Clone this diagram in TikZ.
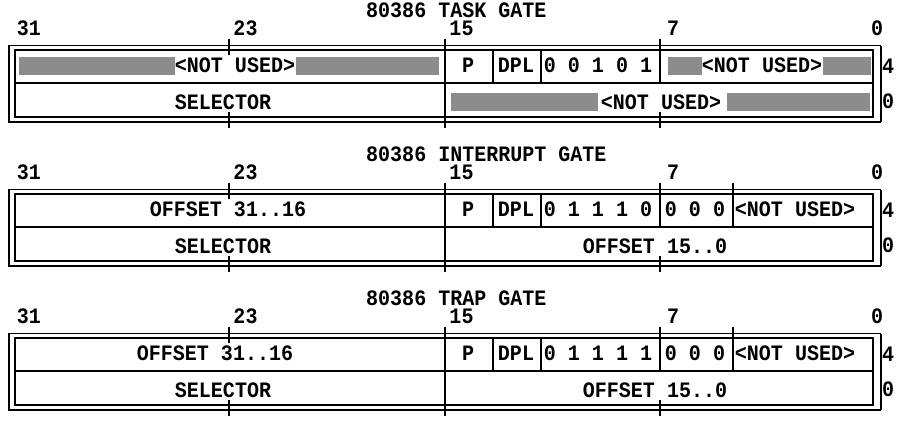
\documentclass[tikz,border=0pt]{standalone}
\usepackage{fontspec}
\setmonofont[FakeStretch=0.91]{Liberation Mono}
\tikzset{
  txt/.style={font=\ttfamily\bfseries\fontsize{22}{22}\selectfont, inner sep=0pt, text depth=0pt, anchor=base, text=black},
  txtw/.style={txt, anchor=base west},
  outerln/.style={line width=1.2pt},
  innerln/.style={line width=2pt},
  divln/.style={line width=1.6pt},
  tickln/.style={line width=2pt},
  hatch/.style={fill=black!45, draw=none},
}
\newcommand\gateframe{%
  \draw[outerln] (9,45.7) rectangle (880.7,122);
  \draw[line width=1.6pt] (880.7,45.7) -- (880.7,122);
  \draw[innerln] (15,50) rectangle (873,117);
  \draw[divln] (15,83) -- (873,83);
  \draw[tickln] (445,39) -- (445,128);
  \draw[tickln] (229,39) -- (229,55);
  \draw[tickln] (229,112) -- (229,128);
  \draw[tickln] (660,39) -- (660,55);
  \draw[tickln] (660,112) -- (660,128);
  \draw[divln] (493,50) -- (493,83);
  \draw[divln] (541,50) -- (541,83);
  \draw[divln] (660,50) -- (660,83);
}
\begin{document}
\begin{tikzpicture}[x=1pt,y=-1pt]
\fill[white] (0,0) rectangle (912,421);
\useasboundingbox (0,0) rectangle (912,421);

% ---------------- TASK GATE ----------------
\begin{scope}
\gateframe
\fill[hatch] (19,57) rectangle (175,75);
\fill[hatch] (296,57) rectangle (439,75);
\fill[hatch] (668,57) rectangle (702,75);
\fill[hatch] (823,57) rectangle (871,75);
\fill[hatch] (451,93) rectangle (598,111);
\fill[hatch] (727,93) rectangle (870,111);
\node[txtw] (at) at (366,17) {80386 TASK GATE};
\node[txt] (a31) at (29,35) {31};
\node[txt] (a23) at (245.5,35) {23};
\node[txt] (a15) at (461.5,35) {15};
\node[txt] (a7) at (673,35) {7};
\node[txt] (a0) at (877,35) {0};
\node[txt] (anu1) at (235,72.5) {<NOT USED>};
\node[txt] (ap) at (468,72.5) {P};
\node[txt] (adpl) at (516,72.5) {DPL};
\node[txt] (atype) at (598,72.5) {0 0 1 0 1};
\node[txt] (anu2) at (762,72.5) {<NOT USED>};
\node[txt] (asel) at (223,109.5) {SELECTOR};
\node[txt] (anu3) at (661,109.5) {<NOT USED>};
\node[txt] (ar4) at (888,73) {4};
\node[txt] (ar0) at (888,108) {0};
\end{scope}

% ---------------- INTERRUPT GATE ----------------
\begin{scope}[yshift=-144pt]
\gateframe
\draw[tickln] (733,39) -- (733,55);
\draw[divln] (733,50) -- (733,83);
\node[txtw] (bt) at (366,17) {80386 INTERRUPT GATE};
\node[txt] (b31) at (29,35) {31};
\node[txt] (b23) at (245.5,35) {23};
\node[txt] (b15) at (461.5,35) {15};
\node[txt] (b7) at (673,35) {7};
\node[txt] (b0) at (877,35) {0};
\node[txt] (boff) at (228,72.5) {OFFSET 31..16};
\node[txt] (bp) at (468,72.5) {P};
\node[txt] (bdpl) at (516,72.5) {DPL};
\node[txt] (btype) at (598,72.5) {0 1 1 1 0};
\node[txt] (bzero) at (695,72.5) {0 0 0};
\node[txt] (bnu) at (795,72.5) {<NOT USED>};
\node[txt] (bsel) at (223,109.5) {SELECTOR};
\node[txt] (boff2) at (655,109.5) {OFFSET 15..0};
\node[txt] (br4) at (888,73) {4};
\node[txt] (br0) at (888,108) {0};
\end{scope}

% ---------------- TRAP GATE ----------------
\begin{scope}[yshift=-288pt]
\gateframe
\draw[tickln] (733,39) -- (733,55);
\draw[divln] (733,50) -- (733,83);
\node[txtw] (ct) at (366,17) {80386 TRAP GATE};
\node[txt] (c31) at (29,35) {31};
\node[txt] (c23) at (245.5,35) {23};
\node[txt] (c15) at (461.5,35) {15};
\node[txt] (c7) at (673,35) {7};
\node[txt] (c0) at (877,35) {0};
\node[txt] (coff) at (215,72.5) {OFFSET 31..16};
\node[txt] (cp) at (468,72.5) {P};
\node[txt] (cdpl) at (516,72.5) {DPL};
\node[txt] (ctype) at (598,72.5) {0 1 1 1 1};
\node[txt] (czero) at (695,72.5) {0 0 0};
\node[txt] (cnu) at (795,72.5) {<NOT USED>};
\node[txt] (csel) at (223,109.5) {SELECTOR};
\node[txt] (coff2) at (655,109.5) {OFFSET 15..0};
\node[txt] (cr4) at (888,73) {4};
\node[txt] (cr0) at (888,108) {0};
\end{scope}
\end{tikzpicture}
\end{document}
